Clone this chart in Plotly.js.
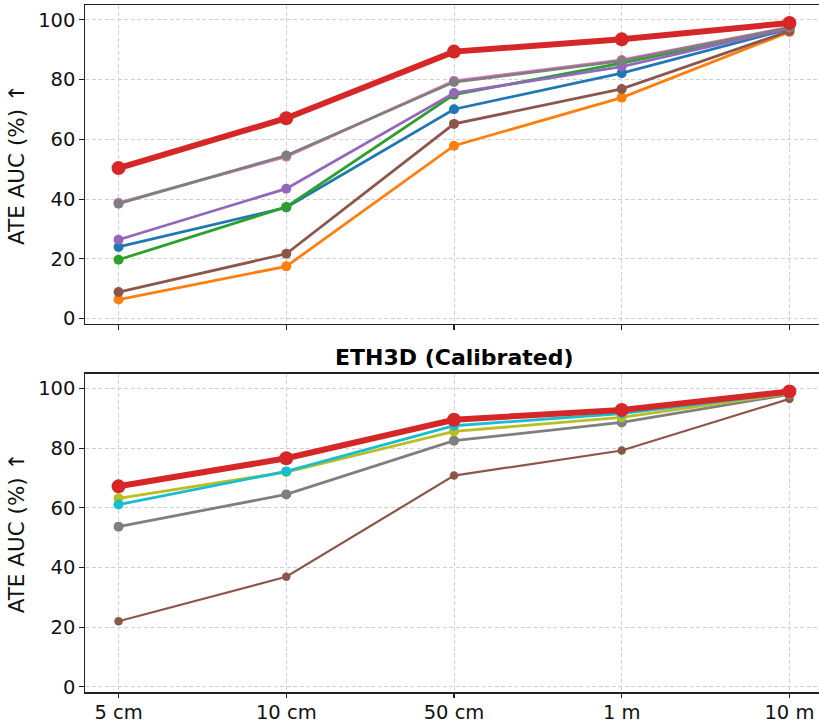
<!DOCTYPE html>
<html>
<head>
<meta charset="utf-8">
<script src="https://cdn.plot.ly/plotly-3.0.1.min.js"></script>
<style>
  html, body { margin: 0; padding: 0; overflow: hidden; background: #ffffff; }
</style>
</head>
<body>
<div id="chart"></div>
<script>
// ATE threshold categories shared by both panels
const thresholds = ['5 cm', '10 cm', '50 cm', '1 m', '10 m'];
const yTicks = [0, 20, 40, 60, 80, 100];

// Upper panel: ATE AUC (%) per threshold
const topBlue   = [24.0, 37.2, 70.1, 82.2, 97.0];
const topOrange = [6.4, 17.5, 57.9, 74.0, 96.0];
const topGreen  = [19.7, 37.4, 75.0, 85.5, 97.3];
const topPurple = [26.4, 43.5, 75.5, 84.4, 97.2];
const topBrown  = [8.9, 21.7, 65.2, 76.9, 96.3];
const topPink   = [38.8, 54.2, 79.6, 86.6, 97.6];
const topGray   = [38.5, 54.6, 79.2, 86.3, 97.4];
const topRed    = [50.4, 67.1, 89.4, 93.5, 99.0];

// Lower panel: ETH3D (Calibrated)
const botBrown = [22.0, 36.9, 70.8, 79.2, 96.5];
const botGray  = [53.7, 64.5, 82.5, 88.6, 98.0];
const botOlive = [63.2, 72.0, 85.6, 90.3, 98.3];
const botCyan  = [61.1, 72.2, 87.5, 91.6, 98.5];
const botRed   = [67.2, 76.6, 89.5, 92.8, 99.0];

function series(values, color, panel, width, msize) {
  return {
    type: 'scatter',
    mode: 'lines+markers',
    x: thresholds,
    y: values,
    xaxis: panel === 1 ? 'x' : 'x2',
    yaxis: panel === 1 ? 'y' : 'y2',
    line: { color: color, width: width },
    marker: { color: color, size: msize },
    showlegend: false,
    hoverinfo: 'x+y'
  };
}

const traces = [
  series(topBlue,   '#1f77b4', 1, 2.8, 10),
  series(topOrange, '#ff7f0e', 1, 2.8, 10),
  series(topGreen,  '#2ca02c', 1, 2.8, 10),
  series(topPurple, '#9467bd', 1, 2.8, 10),
  series(topBrown,  '#8c564b', 1, 2.8, 10),
  series(topPink,   '#e377c2', 1, 2.8, 10),
  series(topGray,   '#7f7f7f', 1, 2.8, 10),
  series(topRed,    '#d62728', 1, 6,   14),

  series(botBrown, '#8c564b', 2, 2.2, 8.5),
  series(botGray,  '#7f7f7f', 2, 2.8, 10),
  series(botOlive, '#bcbd22', 2, 2.8, 10),
  series(botCyan,  '#17becf', 2, 2.8, 10),
  series(botRed,   '#d62728', 2, 6,   14)
];

const FONT = 'DejaVu Sans, sans-serif';
const H = 724;

function xAxis(anchor, showLabels) {
  return {
    anchor: anchor,
    domain: [0, 1],
    type: 'category',
    categoryorder: 'array',
    categoryarray: thresholds,
    range: [-0.2, 4.2],
    showgrid: true,
    gridcolor: '#cccccc',
    gridwidth: 0.9,
    griddash: '4px,2.5px',
    zeroline: false,
    showline: true,
    mirror: true,
    linecolor: '#222222',
    linewidth: 1.2,
    ticks: 'outside',
    ticklen: 4.5,
    tickwidth: 1.1,
    tickcolor: '#222222',
    showticklabels: showLabels,
    ticklabelstandoff: -2,
    tickfont: { family: FONT, size: 19.5, color: '#111111' },
    automargin: false
  };
}

function yAxis(anchor, topPx, bottomPx) {
  return {
    anchor: anchor,
    domain: [1 - bottomPx / H, 1 - topPx / H],
    range: [-1.8, 105],
    tickvals: yTicks,
    showgrid: true,
    gridcolor: '#cccccc',
    gridwidth: 0.9,
    griddash: '4px,2.5px',
    zeroline: false,
    showline: true,
    mirror: true,
    linecolor: '#222222',
    linewidth: 1.2,
    ticks: 'outside',
    ticklen: 4.5,
    tickwidth: 1.1,
    tickcolor: '#222222',
    tickfont: { family: FONT, size: 19.5, color: '#111111' },
    title: {
      text: 'ATE AUC (%) ↑',
      font: { family: FONT, size: 21.5, color: '#111111' },
      standoff: 7
    },
    automargin: false
  };
}

const layout = {
  width: 823,
  height: H,
  margin: { l: 85, r: 0, t: 0, b: 0 },
  paper_bgcolor: '#ffffff',
  plot_bgcolor: '#ffffff',
  xaxis: xAxis('y', false),
  yaxis: yAxis('x', 5, 324),
  xaxis2: xAxis('y2', true),
  yaxis2: yAxis('x2', 373.5, 692.3),
  annotations: [{
    text: '<b>ETH3D (Calibrated)</b>',
    xref: 'paper', yref: 'paper',
    x: 0.5, y: 1 - 357 / H,
    xanchor: 'center', yanchor: 'middle',
    showarrow: false,
    font: { family: FONT, size: 22, color: '#000000' }
  }]
};

Plotly.newPlot('chart', traces, layout, { displayModeBar: false, staticPlot: true });
</script>
</body>
</html>
